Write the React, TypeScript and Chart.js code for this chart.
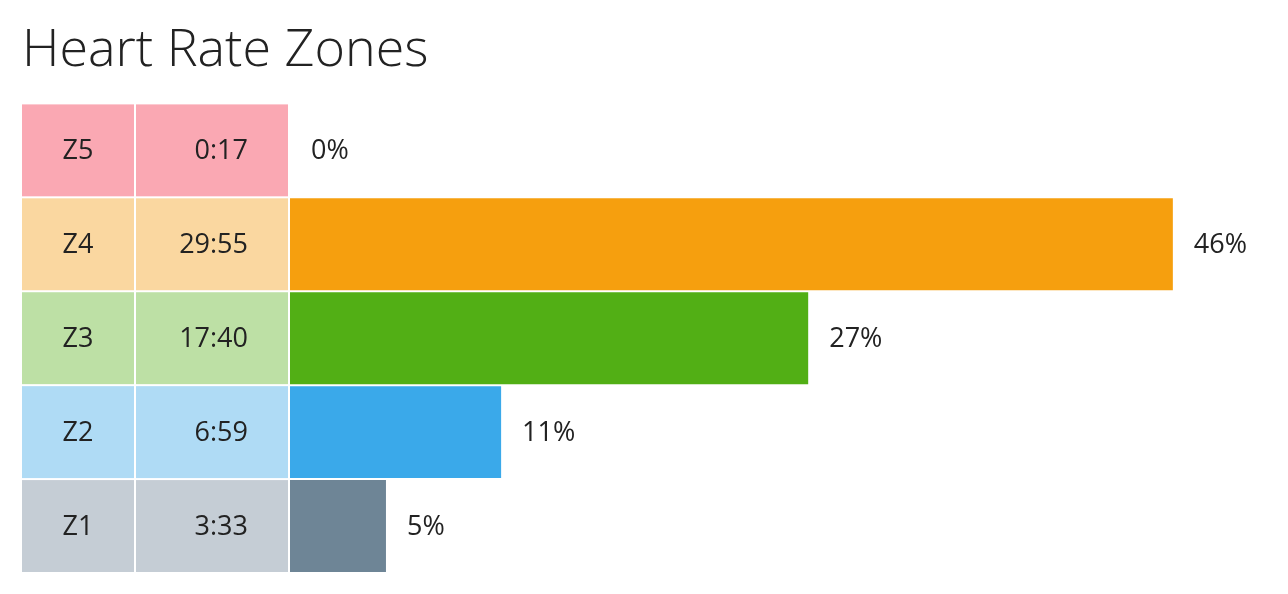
import React, { useEffect, useRef } from "react";
import { Chart, registerables } from "chart.js";

Chart.register(...registerables);

const zones = ["Z5", "Z4", "Z3", "Z2", "Z1"];
const times = ["0:17", "29:55", "17:40", "6:59", "3:33"];
const percents = [0, 46, 27, 11, 5];
const percentLabels = ["0%", "46%", "27%", "11%", "5%"];
const barColors = ["#F2566F", "#F69F0E", "#52AF15", "#3AA9EA", "#6E8596"];
const cellColors = ["#FAA8B3", "#FAD7A0", "#BDE0A5", "#AFDBF5", "#C5CDD5"];

const FONT = "'Open Sans', 'DejaVu Sans', sans-serif";
const TEXT_COLOR = "#222222";

const tablePlugin = {
  id: "zoneTable",
  afterDatasetsDraw(chart: any) {
    const ctx = chart.ctx;
    const meta = chart.getDatasetMeta(0);
    const left = chart.chartArea.left;
    const col1Left = left - 268;
    const col1W = 112;
    const col2Left = col1Left + col1W + 2;
    const col2W = 152;
    ctx.save();
    ctx.font = `400 27px ${FONT}`;
    ctx.textBaseline = "middle";
    meta.data.forEach((el: any, i: number) => {
      const h = el.height;
      const top = el.y - h / 2;
      ctx.fillStyle = cellColors[i];
      ctx.fillRect(col1Left, top, col1W, h);
      ctx.fillRect(col2Left, top, col2W, h);
      ctx.fillStyle = TEXT_COLOR;
      ctx.textAlign = "center";
      ctx.fillText(zones[i], col1Left + col1W / 2, el.y + 1);
      ctx.textAlign = "right";
      ctx.fillText(times[i], col2Left + col2W - 40, el.y + 1);
      ctx.textAlign = "left";
      ctx.fillText(percentLabels[i], el.x + 21, el.y + 1);
    });
    ctx.restore();
  },
};

export default function App() {
  const ref = useRef<HTMLCanvasElement | null>(null);
  useEffect(() => {
    if (!ref.current) return;
    const chart = new Chart(ref.current, {
      type: "bar",
      data: {
        labels: zones,
        datasets: [
          {
            data: percents,
            backgroundColor: barColors,
            borderWidth: 0,
            barPercentage: 1,
            categoryPercentage: 92 / 94,
          },
        ],
      },
      options: {
        indexAxis: "y",
        animation: false,
        responsive: true,
        maintainAspectRatio: false,
        layout: { padding: { top: 0, left: 22, right: 0, bottom: 21 } },
        plugins: {
          legend: { display: false },
          tooltip: { enabled: false },
          title: {
            display: true,
            text: "Heart Rate Zones",
            align: "start",
            color: TEXT_COLOR,
            font: { family: FONT, size: 52, weight: "300" as any },
            padding: { top: 20, bottom: 21 },
          },
        },
        scales: {
          x: { display: false, min: 0, max: 52 },
          y: {
            display: true,
            grid: { display: false },
            border: { display: false },
            ticks: { display: false },
            afterFit(scale: any) {
              scale.width = 268;
            },
          },
        },
      },
      plugins: [tablePlugin],
    });
    return () => chart.destroy();
  }, []);
  return (
    <div style={{ position: "absolute", left: 0, top: 0, width: 1288, height: 594 }}>
      <canvas ref={ref} />
    </div>
  );
}
